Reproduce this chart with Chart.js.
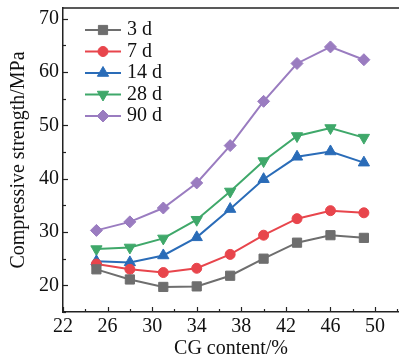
<!DOCTYPE html>
<html>
<head>
<meta charset="utf-8">
<script src="https://cdn.jsdelivr.net/npm/chart.js@4/dist/chart.umd.min.js"></script>
<style>
  html, body { margin: 0; padding: 0; background: #fff; overflow: hidden; }
  canvas { display: block; }
</style>
</head>
<body>
<canvas id="strength-chart" width="399" height="361"></canvas>
<script>
const cgContent = [25, 28, 31, 34, 37, 40, 43, 46, 49];
const strength3d = [23.0, 21.1, 19.7, 19.8, 21.8, 25.0, 28.0, 29.4, 28.9];
const strength7d = [24.0, 23.0, 22.4, 23.2, 25.8, 29.4, 32.5, 34.0, 33.6];
const strength14d = [24.5, 24.3, 25.6, 29.0, 34.3, 39.9, 44.1, 45.1, 43.0];
const strength28d = [26.8, 27.1, 28.8, 32.3, 37.6, 43.3, 48.0, 49.5, 47.7];
const strength90d = [30.3, 31.9, 34.5, 39.2, 46.2, 54.5, 61.6, 64.7, 62.3];
const ageLabels = ['3 d', '7 d', '14 d', '28 d', '90 d'];

const FONT = "'Liberation Serif', 'Times New Roman', serif";
const AXIS = '#222';

const series = [
    { data: strength3d, color: '#6e6e6e', style: 'rect', radius: 6.5, rotation: 0 },
    { data: strength7d, color: '#e8454c', style: 'circle', radius: 5, rotation: 0 },
    { data: strength14d, color: '#2a6cb8', style: 'triangle', radius: 6.5, rotation: 0 },
    { data: strength28d, color: '#3fa86a', style: 'triangle', radius: 6.5, rotation: 180 },
    { data: strength90d, color: '#9a7cc0', style: 'rectRot', radius: 6, rotation: 0 }
];

const datasets = series.map((s, i) => ({
    label: ageLabels[i],
    data: cgContent.map((x, j) => ({ x, y: s.data[j] })),
    showLine: true,
    borderColor: s.color,
    backgroundColor: s.color,
    borderWidth: 2,
    pointStyle: s.style,
    pointRadius: s.radius,
    pointRotation: s.rotation,
    pointBorderWidth: 1,
    tension: 0
}));

// keep the plot frame where it is; edge labels may not push it inwards
const noEdgePadding = s => {
    s.paddingTop = 0;
    s.paddingRight = 0;
    if (s._margins) {
        s._margins.top = 0;
        s._margins.right = 0;
    }
};

// inward tick marks, top frame line and the line+marker legend
const framePlugin = {
    id: 'frame',
    afterDraw(chart) {
        const { ctx, chartArea: a, scales } = chart;
        ctx.save();
        ctx.strokeStyle = AXIS;
        ctx.lineWidth = 1.5;
        ctx.beginPath();
        ctx.moveTo(a.left - 0.75, a.top);
        ctx.lineTo(chart.width, a.top);
        ctx.stroke();

        ctx.lineWidth = 1.2;
        scales.x.ticks.forEach(t => {
            const px = Math.round(scales.x.getPixelForValue(t.value)) + 0.5;
            const len = (t.value - 22) % 4 === 0 ? 5 : 3;
            ctx.beginPath();
            ctx.moveTo(px, a.bottom);
            ctx.lineTo(px, a.bottom - len);
            ctx.stroke();
        });
        scales.y.ticks.forEach(t => {
            const py = Math.round(scales.y.getPixelForValue(t.value)) + 0.5;
            const len = t.value % 10 === 0 ? 5 : 3;
            ctx.beginPath();
            ctx.moveTo(a.left, py);
            ctx.lineTo(a.left + len, py);
            ctx.stroke();
        });

        ctx.font = '20px ' + FONT;
        ctx.textBaseline = 'middle';
        ctx.textAlign = 'left';
        series.forEach((s, i) => {
            const y = 30 + i * 21.5;
            ctx.strokeStyle = s.color;
            ctx.lineWidth = 2;
            ctx.beginPath();
            ctx.moveTo(85, y);
            ctx.lineTo(121, y);
            ctx.stroke();
            ctx.fillStyle = s.color;
            ctx.strokeStyle = s.color;
            ctx.lineWidth = 1;
            Chart.helpers.drawPoint(ctx, {
                pointStyle: s.style, radius: s.radius, rotation: s.rotation, borderWidth: 1
            }, 103, y);
            ctx.fillStyle = '#111';
            ctx.fillText(ageLabels[i], 127, y);
        });
        ctx.restore();
    }
};

new Chart(document.getElementById('strength-chart'), {
    type: 'scatter',
    data: { datasets },
    options: {
        responsive: false,
        animation: false,
        layout: { autoPadding: false, padding: { top: 8, right: 0, bottom: 0, left: 0 } },
        plugins: { legend: { display: false }, tooltip: { enabled: false } },
        scales: {
            x: {
                type: 'linear',
                min: 22,
                max: 52.15,
                afterFit: s => { s.height = 49; noEdgePadding(s); },
                ticks: {
                    stepSize: 2,
                    includeBounds: false,
                    autoSkip: false,
                    maxRotation: 0,
                    padding: 3,
                    color: '#111',
                    font: { family: FONT, size: 20 },
                    callback: v => ((v - 22) % 4 === 0 ? v : '')
                },
                grid: { drawOnChartArea: false, drawTicks: false, display: false },
                border: { display: true, color: AXIS, width: 1.5 },
                title: {
                    display: true,
                    text: 'CG content/%',
                    color: '#111',
                    font: { family: FONT, size: 20 },
                    padding: { top: 2, bottom: 0 }
                }
            },
            y: {
                type: 'linear',
                min: 15,
                max: 72,
                afterFit: s => { s.width = 63; noEdgePadding(s); },
                ticks: {
                    stepSize: 5,
                    includeBounds: false,
                    autoSkip: false,
                    padding: 4,
                    color: '#111',
                    font: { family: FONT, size: 20 },
                    callback: v => (v % 10 === 0 ? v : '')
                },
                grid: { drawOnChartArea: false, drawTicks: false, display: false },
                border: { display: true, color: AXIS, width: 1.5 },
                title: {
                    display: true,
                    text: 'Compressive strength/MPa',
                    color: '#111',
                    font: { family: FONT, size: 20 },
                    padding: { top: 7, bottom: 0 }
                }
            }
        }
    },
    plugins: [framePlugin]
});
</script>
</body>
</html>
